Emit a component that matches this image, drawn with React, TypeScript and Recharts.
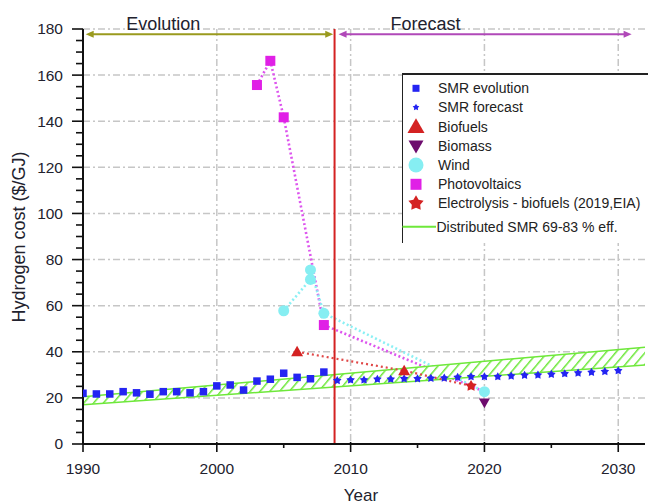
import React from 'react';
import {
  ComposedChart, Area, Line, Scatter, XAxis, YAxis, CartesianGrid,
  ReferenceLine, ReferenceDot,
} from 'recharts';

const FONT = '"Liberation Sans", Arial, sans-serif';
const INK = '#22222e';

// ── Axes ──────────────────────────────────────────────────────────────────────
const X_TICKS = [1990, 1995, 2000, 2005, 2010, 2015, 2020, 2025, 2030];
const X_LABELS = [1990, 2000, 2010, 2020, 2030];
const Y_TICKS = [0, 5, 10, 15, 20, 25, 30, 35, 40, 45, 50, 55, 60, 65, 70, 75, 80, 85, 90,
  95, 100, 105, 110, 115, 120, 125, 130, 135, 140, 145, 150, 155, 160, 165, 170, 175, 180];
const Y_LABELS = [0, 20, 40, 60, 80, 100, 120, 140, 160, 180];
const GRID_X = [2000, 2010, 2020, 2030];
const GRID_Y = [20, 40, 60, 80, 100, 120, 140, 160, 180];

// ── Series ────────────────────────────────────────────────────────────────────
const SMR_EVO_YEARS = [1990, 1991, 1992, 1993, 1994, 1995, 1996, 1997, 1998, 1999,
  2000, 2001, 2002, 2003, 2004, 2005, 2006, 2007, 2008];
const SMR_EVO = [22.0, 21.7, 21.7, 22.7, 22.2, 21.6, 22.7, 22.7, 22.2, 22.7,
  25.2, 25.6, 23.4, 27.3, 28.1, 30.7, 28.9, 28.3, 31.2];

const SMR_FC_YEARS = [2009, 2010, 2011, 2012, 2013, 2014, 2015, 2016, 2017, 2018, 2019,
  2020, 2021, 2022, 2023, 2024, 2025, 2026, 2027, 2028, 2029, 2030];
const SMR_FC = [27.5, 27.8, 27.8, 28.1, 28.1, 28.3, 28.3, 28.5, 28.6, 28.9, 29.2,
  29.2, 29.2, 29.5, 29.8, 29.9, 30.2, 30.5, 30.8, 31.1, 31.4, 31.8];

const BIOFUEL_YEARS = [2006, 2014];
const BIOFUEL = [40.0, 31.8];
const BIOMASS_YEARS = [2020];
const BIOMASS = [17.9];
const WIND_YEARS = [2005, 2007, 2007, 2008, 2020];
const WIND = [57.8, 71.4, 75.5, 56.7, 22.7];
const PV_YEARS = [2003, 2004, 2005, 2008];
const PV = [155.7, 166.2, 141.7, 51.6];
const ELECTRO_YEARS = [2019];
const ELECTRO = [25.2];

// dotted trend lines
const PV_TREND_YEARS = [2003, 2004, 2005, 2008, 2020];
const PV_TREND = [155.7, 166.2, 141.7, 51.6, 22.7];
const WIND_TREND_YEARS = [2005, 2007, 2007, 2008, 2020];
const WIND_TREND = [57.8, 71.4, 75.5, 56.7, 22.7];
const BIO_TREND_YEARS = [2006, 2014, 2019];
const BIO_TREND = [40.0, 31.8, 25.2];

// distributed SMR band (69-83 % eff.)
const BAND_YEARS = [1990, 2032];
const BAND_LOW = [17.0, 34.3];
const BAND_HIGH = [20.5, 42.0];

// evolution / forecast split
const SPLIT_YEAR = 2008.8;
const ARROW_LEVEL = 177.7;
const EVOLUTION_SPAN = [1990.2, 2008.7];
const FORECAST_SPAN = [2009.1, 2031.0];
const EVOLUTION_LABEL_AT = 1996.0;
const FORECAST_LABEL_AT = 2015.6;

const LEGEND_LABELS = ['SMR evolution', 'SMR forecast', 'Biofuels', 'Biomass', 'Wind',
  'Photovoltaics', 'Electrolysis - biofuels (2019,EIA)', 'Distributed SMR 69-83 % eff.'];

const pts = (xs: number[], ys: number[]) => xs.map((year, i) => ({ year, value: ys[i] }));
const bandData = BAND_YEARS.map((year, i) => ({ year, band: [BAND_LOW[i], BAND_HIGH[i]] }));

const BLUE = '#2424f2';
const RED = '#d42222';
const PURPLE = '#6e0c6e';
const CYAN = '#86eef2';
const MAGENTA = '#e020e6';
const GREEN = '#6ee83a';

// ── Markers ───────────────────────────────────────────────────────────────────

function starPoints(cx: number, cy: number, r: number, inner = 0.45) {
  const out: string[] = [];
  for (let i = 0; i < 10; i++) {
    const rad = i % 2 === 0 ? r : r * inner;
    const a = -Math.PI / 2 + (i * Math.PI) / 5;
    out.push(`${cx + rad * Math.cos(a)},${cy + rad * Math.sin(a)}`);
  }
  return out.join(' ');
}

function Marker({ cx, cy, kind, size, color }: { cx: number; cy: number; kind: string; size: number; color: string }) {
  const h = size / 2;
  if (cx == null || cy == null) return null;
  switch (kind) {
    case 'square':
      return <rect x={cx - h} y={cy - h} width={size} height={size} fill={color} />;
    case 'circle':
      return <circle cx={cx} cy={cy} r={h} fill={color} />;
    case 'up':
      return <polygon points={`${cx},${cy - h} ${cx + h},${cy + h * 0.75} ${cx - h},${cy + h * 0.75}`} fill={color} />;
    case 'down':
      return <polygon points={`${cx - h},${cy - h * 0.75} ${cx + h},${cy - h * 0.75} ${cx},${cy + h}`} fill={color} />;
    case 'star':
      return <polygon points={starPoints(cx, cy, h, 0.55)} fill={color} />;
    default:
      return null;
  }
}

const shape = (kind: string, size: number, color: string) => (p: any) =>
  <Marker cx={p.cx} cy={p.cy} kind={kind} size={size} color={color} />;

// ── Ticks ─────────────────────────────────────────────────────────────────────

function XTick({ x, y, payload }: any) {
  const major = X_LABELS.includes(payload.value);
  return (
    <g>
      <line x1={x} x2={x} y1={major ? y - 2 : y} y2={y + (major ? 8 : 4)} stroke="#111" strokeWidth={1.6} />
      {major && (
        <text x={x} y={y + 24.5} dy="0.35em" textAnchor="middle" fontSize={15.5} fontFamily={FONT} fill={INK}>
          {payload.value}
        </text>
      )}
    </g>
  );
}

function YTick({ x, y, payload }: any) {
  const major = Y_LABELS.includes(payload.value);
  return (
    <g>
      <line x1={x - (major ? 11 : 7)} x2={x} y1={y} y2={y} stroke="#111" strokeWidth={1.6} />
      {major && (
        <text x={x - 20} y={y} dy="0.35em" textAnchor="end" fontSize={15.5} fontFamily={FONT} fill={INK}>
          {payload.value}
        </text>
      )}
    </g>
  );
}

// ── Top arrows ────────────────────────────────────────────────────────────────

const arrowShape = (color: string) => (p: any) => {
  const { x1, y1, x2 } = p;
  const y = y1;
  return (
    <g>
      <line x1={x1 + 4} x2={x2 - 4} y1={y} y2={y} stroke={color} strokeWidth={2} />
      <polygon points={`${x1},${y} ${x1 + 8},${y - 3.5} ${x1 + 8},${y + 3.5}`} fill={color} />
      <polygon points={`${x2},${y} ${x2 - 8},${y - 3.5} ${x2 - 8},${y + 3.5}`} fill={color} />
    </g>
  );
};

const topLabel = (text: string) => (p: any) => {
  const vb = p.viewBox || {};
  return (
    <text x={vb.x} y={vb.y - 11} dy="0.35em" textAnchor="middle" fontSize={18} fontFamily={FONT} fill={INK}>
      {text}
    </text>
  );
};

// ── Legend ────────────────────────────────────────────────────────────────────

const LEGEND_MARKS = [
  { kind: 'square', size: 7, color: BLUE },
  { kind: 'star', size: 7, color: BLUE },
  { kind: 'up', size: 17, color: RED },
  { kind: 'down', size: 15, color: PURPLE },
  { kind: 'circle', size: 15, color: CYAN },
  { kind: 'square', size: 11, color: MAGENTA },
  { kind: 'star', size: 16, color: RED },
];
const LEGEND_ROWS = [14.3, 33.3, 52.7, 72, 91, 110.3, 129.3, 152.7];

function ChartLegend() {
  return (
    <div style={{
      position: 'absolute', left: 401.5, top: 73, width: 260, height: 170,
      background: '#fff', borderTop: '2px solid #222', borderLeft: '1.5px solid #222',
      boxSizing: 'border-box',
    }}>
      <svg width={260} height={170} style={{ display: 'block', position: 'absolute', left: -1.5, top: -1 }}>
        {LEGEND_LABELS.map((label, i) => {
          const y = LEGEND_ROWS[i];
          const m = LEGEND_MARKS[i];
          return (
            <g key={label}>
              {m
                ? <Marker cx={15} cy={y} kind={m.kind} size={m.size} color={m.color} />
                : <line x1={1.5} x2={35} y1={y} y2={y} stroke={GREEN} strokeWidth={2} />}
              <text x={m ? 37 : 35.5} y={y} dy="0.35em" fontSize={14} fontFamily={FONT} fill="#222">{label}</text>
            </g>
          );
        })}
      </svg>
    </div>
  );
}

// ── Main ──────────────────────────────────────────────────────────────────────

export default function App() {
  return (
    <div style={{ position: 'absolute', left: 0, top: 0, width: 648, height: 504, overflow: 'hidden', background: '#fff' }}>
      <ComposedChart
        width={648} height={504} data={bandData}
        margin={{ top: 29, right: 3, bottom: 0, left: 0 }}
      >
        <defs>
          <pattern id="hatch" width="7.5" height="7.5" patternUnits="userSpaceOnUse" patternTransform="rotate(40)">
            <rect width="7.5" height="7.5" fill="#fff" />
            <line x1="0" y1="0" x2="0" y2="7.5" stroke={GREEN} strokeWidth="3" />
          </pattern>
        </defs>

        <CartesianGrid
          horizontalValues={GRID_Y} verticalValues={GRID_X}
          stroke="#c6c6c6" strokeWidth={1.5} strokeDasharray="7 3 2 3"
        />

        <XAxis
          dataKey="year" type="number" domain={[1990, 2032]} ticks={X_TICKS} interval={0}
          height={60} tickSize={0} tickMargin={0} tickLine={false}
          axisLine={{ stroke: '#111', strokeWidth: 2 }} tick={<XTick />}
          allowDataOverflow
          label={() => (
            <text x={361} y={495} dy="0.35em" textAnchor="middle" fontSize={17} fontFamily={FONT} fill={INK}>Year</text>
          )}
        />
        <YAxis
          type="number" domain={[0, 180]} ticks={Y_TICKS} interval={0}
          width={83} tickSize={0} tickMargin={0} tickLine={false}
          axisLine={{ stroke: '#111', strokeWidth: 2 }} tick={<YTick />}
          allowDataOverflow
          label={() => (
            <text x={18.5} y={237} dy="0.35em" textAnchor="middle" fontSize={18} fontFamily={FONT} fill={INK}
              transform="rotate(-90 18.5 237)">Hydrogen cost ($/GJ)</text>
          )}
        />

        {/* projections that run under the band */}
        <Line data={pts(PV_TREND_YEARS, PV_TREND)} dataKey="value" type="linear" stroke="#dd55ee"
          strokeWidth={2.6} strokeDasharray="2 2.5" dot={false} activeDot={false} isAnimationActive={false} zIndex={50} />
        <Line data={pts(WIND_TREND_YEARS, WIND_TREND)} dataKey="value" type="linear" stroke="#8cf0f4"
          strokeWidth={2.6} strokeDasharray="2 2.5" dot={false} activeDot={false} isAnimationActive={false} zIndex={50} />

        <Area dataKey="band" type="linear" stroke={GREEN} strokeWidth={1.5} fill="url(#hatch)" fillOpacity={1}
          dot={false} activeDot={false} isAnimationActive={false} />

        <Line data={pts(BIO_TREND_YEARS, BIO_TREND)} dataKey="value" type="linear" stroke="#e04848"
          strokeWidth={2.2} strokeDasharray="2 3" dot={false} activeDot={false} isAnimationActive={false} />

        <ReferenceLine x={SPLIT_YEAR} stroke={RED} strokeWidth={2} />
        <ReferenceLine
          segment={[{ x: EVOLUTION_SPAN[0], y: ARROW_LEVEL }, { x: EVOLUTION_SPAN[1], y: ARROW_LEVEL }]}
          shape={arrowShape('#9a9a1e')}
        />
        <ReferenceLine
          segment={[{ x: FORECAST_SPAN[0], y: ARROW_LEVEL }, { x: FORECAST_SPAN[1], y: ARROW_LEVEL }]}
          shape={arrowShape('#b048b8')}
        />
        <ReferenceDot x={EVOLUTION_LABEL_AT} y={ARROW_LEVEL} r={0} fill="none" stroke="none" label={topLabel('Evolution')} />
        <ReferenceDot x={FORECAST_LABEL_AT} y={ARROW_LEVEL} r={0} fill="none" stroke="none" label={topLabel('Forecast')} />

        <Scatter data={pts(SMR_EVO_YEARS, SMR_EVO)} dataKey="value" shape={shape('square', 7.5, BLUE)} isAnimationActive={false} />
        <Scatter data={pts(SMR_FC_YEARS, SMR_FC)} dataKey="value" shape={shape('star', 9, BLUE)} isAnimationActive={false} />
        <Scatter data={pts(PV_YEARS, PV)} dataKey="value" shape={shape('square', 10, MAGENTA)} isAnimationActive={false} />
        <Scatter data={pts(WIND_YEARS, WIND)} dataKey="value" shape={shape('circle', 11, CYAN)} isAnimationActive={false} />
        <Scatter data={pts(BIOFUEL_YEARS, BIOFUEL)} dataKey="value" shape={shape('up', 12, RED)} isAnimationActive={false} />
        <Scatter data={pts(BIOMASS_YEARS, BIOMASS)} dataKey="value" shape={shape('down', 11, PURPLE)} isAnimationActive={false} />
        <Scatter data={pts(ELECTRO_YEARS, ELECTRO)} dataKey="value" shape={shape('star', 12, RED)} isAnimationActive={false} />
      </ComposedChart>
      <ChartLegend />
    </div>
  );
}
